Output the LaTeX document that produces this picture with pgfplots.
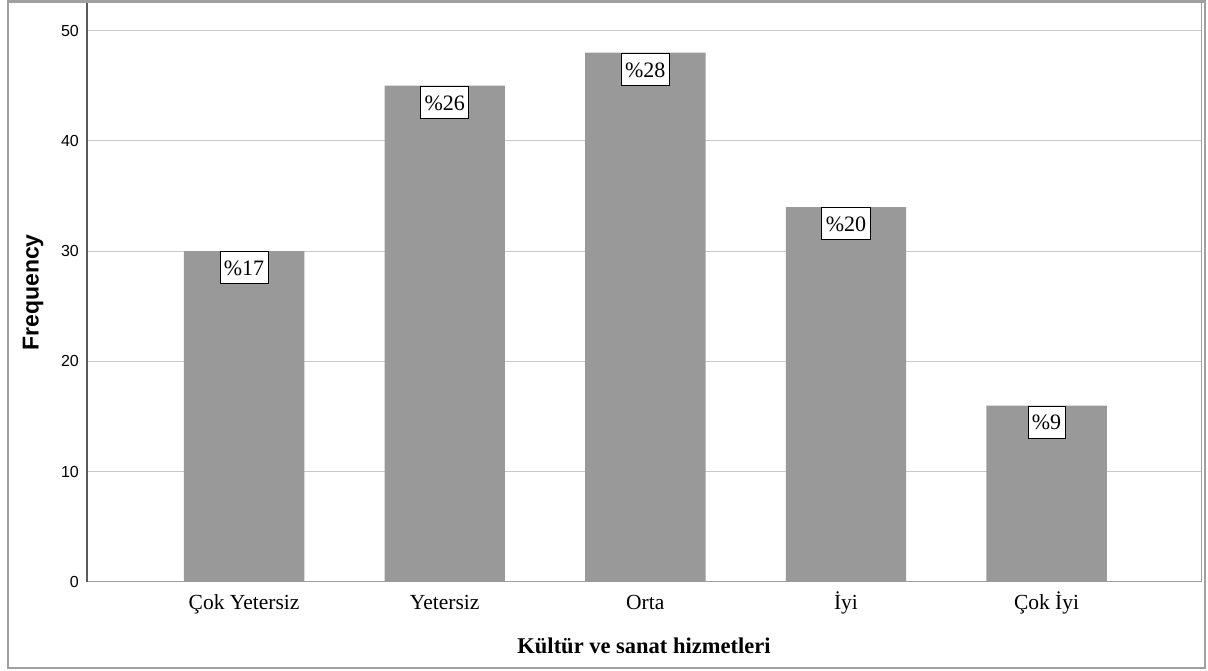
\documentclass[border=0pt]{standalone}
\usepackage{fontspec}
\setmainfont{Liberation Serif}
\newfontfamily\sansf{Liberation Sans}
\usepackage{pgfplots}
\pgfplotsset{compat=1.18}
\definecolor{barg}{RGB}{153,153,153}
\definecolor{gridg}{RGB}{200,200,200}
\definecolor{frameg}{RGB}{160,160,160}
\definecolor{axisg}{RGB}{90,90,90}
\begin{document}
\begin{tikzpicture}
\path[use as bounding box] (0bp,0bp) rectangle (1208bp,671bp);
\draw[frameg, line width=2.5bp] (8bp,3bp) rectangle (1205bp,669.5bp);
\begin{axis}[
  at={(87bp,89bp)}, anchor=south west,
  scale only axis, width=1114bp, height=579bp,
  xmin=-0.783, xmax=4.77, ymin=0, ymax=52.5,
  ybar, bar width=0.6,
  xtick={0,1,2,3,4},
  xticklabels={Çok Yetersiz, Yetersiz, Orta, İyi, Çok İyi},
  ytick={0,10,20,30,40,50},
  major tick length=0pt,
  ymajorgrids, major grid style={gridg, line width=1bp},
  axis line style={frameg, line width=1bp},
  /pgf/number format/assume math mode=true,
  yticklabel style={font=\sansf\fontsize{16bp}{19bp}\selectfont, inner sep=0pt, anchor=east},
  yticklabel shift=8bp,
  xticklabel style={font=\fontsize{21.5bp}{25bp}\selectfont, inner sep=0pt, anchor=north, text height=14bp, text depth=5bp},
  xticklabel shift=13bp,
  xlabel={\bfseries Kültür ve sanat hizmetleri},
  xlabel style={font=\fontsize{22.5bp}{26bp}\selectfont, at={(axis description cs:0.5,0)}, anchor=center, yshift=-64bp},
  ylabel={\bfseries Frequency},
  ylabel style={font=\sansf\fontsize{23bp}{27bp}\selectfont, at={([xshift=-54bp]axis description cs:0,0.5)}, anchor=center},
  clip=false,
]
\addplot[fill=barg, draw=none,
  nodes near coords, point meta=explicit symbolic,
  every node near coord/.append style={anchor=north, fill=white, draw=black, line width=0.8bp,
    font=\fontsize{22bp}{26bp}\selectfont, inner xsep=4bp, inner ysep=4bp,
    text height=20bp, text depth=4bp, yshift=0pt}]
  coordinates {(0,30) [\%17] (1,45) [\%26] (2,48) [\%28] (3,34) [\%20] (4,16) [\%9]};
\draw[axisg, line width=1.2bp] (rel axis cs:0,0) -- (rel axis cs:0,1);
\end{axis}
\end{tikzpicture}
\end{document}
